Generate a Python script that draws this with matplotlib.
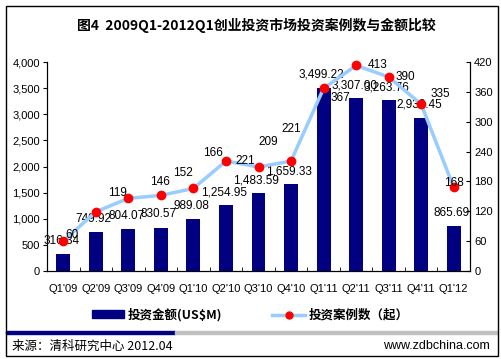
import matplotlib.pyplot as plt
from matplotlib.patches import Rectangle
from matplotlib.lines import Line2D
from matplotlib.ticker import FuncFormatter

quarters = ["Q1'09", "Q2'09", "Q3'09", "Q4'09", "Q1'10", "Q2'10", "Q3'10",
            "Q4'10", "Q1'11", "Q2'11", "Q3'11", "Q4'11", "Q1'12"]
amount = [316.34, 749.92, 804.07, 830.57, 989.08, 1254.95, 1483.59,
          1659.33, 3499.22, 3307.00, 3263.76, 2932.45, 865.69]
deals = [60, 119, 146, 152, 166, 221, 209, 221, 367, 413, 390, 335, 168]

# label offsets (px) for the count labels, as placed in the original
deal_offsets = [(9, 6), (22, 19), (32, 16), (22, 22), (20, 35), (19, 0), (10, 25),
                (0, 32), (17, -10), (21, 0), (17, 0), (19, 10), (0, 4)]

NAVY = "#000080"
LINE = "#99CCFF"
LATIN = ["Liberation Sans", "Noto Sans CJK SC"]
CJK = ["Noto Sans CJK SC", "DejaVu Sans"]

plt.rcParams["font.family"] = LATIN
plt.rcParams["font.size"] = 8

fig = plt.figure(figsize=(5.02, 3.59), dpi=100)
ax = fig.add_axes([47 / 502, 1 - 271 / 359, 423 / 502, 209 / 359])
ax2 = ax.twinx()

x = list(range(len(quarters)))
ax.bar(x, amount, width=0.43, color=NAVY, zorder=2)
ax.set_xlim(-0.5, len(quarters) - 0.5)
ax.set_ylim(0, 4000)
ax.set_yticks(range(0, 4001, 500))
ax.yaxis.set_major_formatter(FuncFormatter(lambda v, p: f"{int(v):,}"))
ax.set_xticks(x)
ax.set_xticklabels(quarters)
ax.set_xticks([i + 0.5 for i in x[:-1]], minor=True)
ax.tick_params(axis="x", which="major", length=0, pad=9)
ax.tick_params(axis="x", which="minor", direction="in", length=3)
ax.tick_params(axis="y", direction="out", length=3, pad=2)
ax.spines["top"].set_visible(False)

for xi, v in zip(x, amount):
    ax.annotate(f"{v:,.2f}", (xi, v), xytext=(-1.5, 9.5), textcoords="offset points",
                ha="center", va="center", fontsize=8.5, zorder=5)

ax2.plot(x, deals, color=LINE, lw=2.5, zorder=3, clip_on=False)
ax2.plot(x, deals, "o", color="#FF0000", ms=6, zorder=4, clip_on=False)
ax2.set_ylim(0, 420)
ax2.set_yticks(range(0, 421, 60))
ax2.tick_params(axis="y", direction="in", length=3, pad=3)
ax2.spines["top"].set_visible(False)

for xi, v, (dx, dy) in zip(x, deals, deal_offsets):
    ax2.annotate(str(v), (xi, v), xytext=(dx * 0.72, dy * 0.72), textcoords="offset points",
                 ha="center", va="center", fontsize=8.5, zorder=5)

fig.text(256 / 502, 1 - 25 / 359, "图4  2009Q1-2012Q1创业投资市场投资案例数与金额比较",
         ha="center", va="center", fontsize=10, fontweight="bold", family=CJK)

handles = [Rectangle((0, 0), 1, 1, color=NAVY),
           Line2D([], [], color=LINE, lw=2.5, marker="o", mfc="#FF0000", mec="#FF0000", ms=5)]
fig.legend(handles, ["投资金额(US\\$M)", "投资案例数（起）"], loc="center",
           bbox_to_anchor=(250 / 502, 1 - 315 / 359), ncol=2, frameon=False,
           handlelength=2.6, handleheight=0.6, columnspacing=4, handletextpad=0.3,
           prop={"family": CJK, "weight": "bold", "size": 9})

fig.patches.append(Rectangle((6 / 502, 1 - 334 / 359), 169 / 502, 3 / 359,
                             transform=fig.transFigure, color=NAVY))
fig.patches.append(Rectangle((175 / 502, 1 - 334 / 359), 323 / 502, 3 / 359,
                             transform=fig.transFigure, color="#C0C0C0"))
fig.patches.append(Rectangle((6 / 502, 1 - 356 / 359), 492 / 502, 350 / 359,
                             transform=fig.transFigure, fill=False, ec="black", lw=1))

fig.text(12 / 502, 1 - 346 / 359, "来源：清科研究中心 2012.04", ha="left", va="center",
         fontsize=9, family=CJK)
fig.text(490 / 502, 1 - 346 / 359, "www.zdbchina.com", ha="right", va="center", fontsize=9)

fig.savefig("out.png", dpi=100)
